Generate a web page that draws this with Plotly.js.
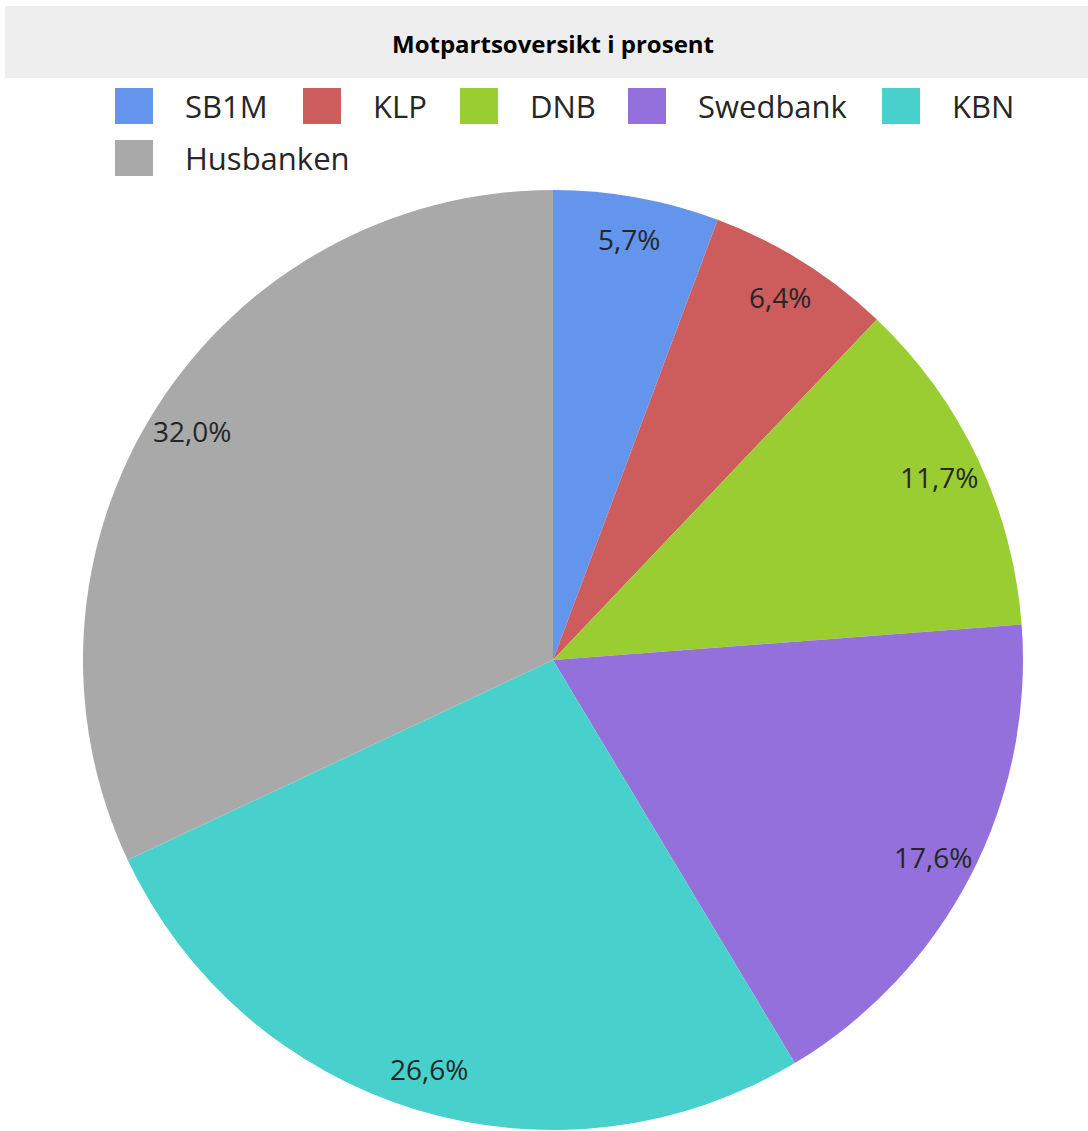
<!DOCTYPE html>
<html>
<head>
<meta charset="utf-8">
<script src="https://cdn.plot.ly/plotly-3.0.1.min.js"></script>
<style>
  body { margin: 0; background: #fff; }
  #chart { width: 1088px; height: 1131px; }
</style>
</head>
<body>
<div id="chart"></div>
<script>
// data
var labels = ['SB1M', 'KLP', 'DNB', 'Swedbank', 'KBN', 'Husbanken'];
var values = [5.7, 6.4, 11.7, 17.6, 26.6, 32.0];
var colors = ['#6495ED', '#CD5C5C', '#9ACD32', '#9370DB', '#48D1CC', '#A9A9A9'];

// legend layout (px from left / top)
var legendX = [115, 303, 460, 628, 882, 115];
var legendY = [106, 106, 106, 106, 106, 158];

var W = 1088, H = 1131;
function px(x) { return x / W; }
function py(y) { return 1 - y / H; }

// pie : center 553,660  radius 470
var cx = 553, cy = 660, R = 470;
var dom = { x: [px(cx - R), px(cx + R)], y: [py(cy + R), py(cy - R)] };

var pie = {
  type: 'pie',
  labels: labels,
  values: values,
  marker: { colors: colors, line: { width: 0 } },
  sort: false,
  direction: 'clockwise',
  rotation: 0,
  textinfo: 'none',
  domain: dom,
  showlegend: false
};

var shapes = [{
  type: 'rect', xref: 'paper', yref: 'paper',
  x0: px(5), x1: 1, y0: py(78), y1: py(6),
  fillcolor: '#EEEEEE', line: { width: 0 }, layer: 'below'
}];
var annotations = [{
  xref: 'paper', yref: 'paper', x: px(553), y: py(43),
  text: '<b>Motpartsoversikt i prosent</b>', showarrow: false,
  xanchor: 'center', yanchor: 'middle',
  font: { family: 'Open Sans, sans-serif', size: 24, color: '#000' }
}];

// percentage labels along mid-angle of each slice
var total = values.reduce(function (a, b) { return a + b; }, 0);
var cum = 0;
for (var i = 0; i < values.length; i++) {
  var a = (cum + values[i] / 2) / total * 2 * Math.PI;
  cum += values[i];
  annotations.push({
    xref: 'paper', yref: 'paper',
    x: px(cx + 0.91 * R * Math.sin(a)), y: py(cy - 0.91 * R * Math.cos(a)),
    text: values[i].toFixed(1).replace('.', ',') + '%', showarrow: false,
    xanchor: 'center', yanchor: 'middle',
    font: { family: 'Open Sans, sans-serif', size: 28, color: '#262626' }
  });
}

for (var j = 0; j < labels.length; j++) {
  shapes.push({
    type: 'rect', xref: 'paper', yref: 'paper',
    x0: px(legendX[j]), x1: px(legendX[j] + 38),
    y0: py(legendY[j] + 18), y1: py(legendY[j] - 18),
    fillcolor: colors[j], line: { width: 0 }
  });
  annotations.push({
    xref: 'paper', yref: 'paper', x: px(legendX[j] + 68), y: py(legendY[j]),
    text: labels[j], showarrow: false, xanchor: 'left', yanchor: 'middle',
    font: { family: 'Open Sans, sans-serif', size: 31, color: '#262626' }
  });
}

var layout = {
  width: W, height: H,
  margin: { l: 0, r: 0, t: 0, b: 0 },
  paper_bgcolor: '#fff',
  showlegend: false,
  shapes: shapes,
  annotations: annotations
};

Plotly.newPlot('chart', [pie], layout, { displayModeBar: false });
</script>
</body>
</html>
